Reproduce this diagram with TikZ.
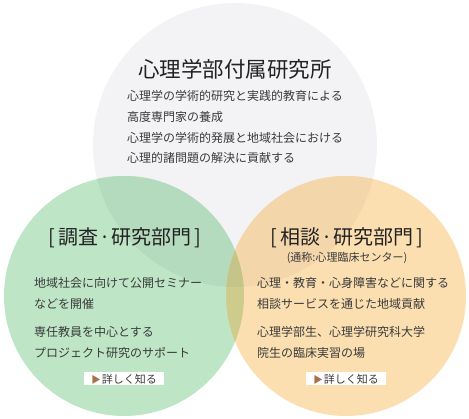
\documentclass[tikz,border=0pt]{standalone}
\usepackage{fontspec}
\setmainfont{Noto Sans CJK JP}
\definecolor{cgrey}{HTML}{F3F3F5}
\definecolor{cgreen}{HTML}{BEE6C6}
\definecolor{corange}{HTML}{FBDFB1}
\definecolor{cgreengrey}{HTML}{B4DBBE}
\definecolor{corangegrey}{HTML}{F3D6AA}
\definecolor{cgo}{HTML}{CDCC8D}
\definecolor{ctri}{HTML}{C5C589}
\definecolor{ctext}{HTML}{3A3A3A}
\definecolor{ctitle}{HTML}{222222}
\definecolor{carrow}{HTML}{A8714A}
\begin{document}
\begin{tikzpicture}[x=1pt,y=-1pt,
  bodytext/.style={anchor=west,inner sep=0pt,text=ctext,font=\fontsize{12pt}{14pt}\selectfont},
  headtext/.style={inner sep=0pt,text=ctitle,font=\fontsize{20pt}{24pt}\selectfont},
  btn/.style={fill=white,inner sep=0pt,minimum width=80pt,minimum height=13pt,text=ctext,font=\fontsize{11pt}{13pt}\selectfont}]
\useasboundingbox (0,0) rectangle (469,419);
% circles
\fill[cgrey] (235,145) circle (142pt);
\fill[cgreen] (124,296) circle (120pt);
\fill[corange] (346,296) circle (120pt);
\begin{scope}
  \clip (235,145) circle (142pt);
  \fill[cgreengrey] (124,296) circle (120pt);
  \fill[corangegrey] (346,296) circle (120pt);
\end{scope}
\begin{scope}
  \clip (124,296) circle (120pt);
  \fill[cgo] (346,296) circle (120pt);
  \clip (235,145) circle (142pt);
  \fill[ctri] (346,296) circle (120pt);
\end{scope}
% top circle
\node[inner sep=0pt,text=ctitle,font=\fontsize{21.5pt}{26pt}\selectfont] (title) at (235,69) {心理学部付属研究所};
\node[bodytext] (t1) at (127,96) {心理学の学術的研究と実践的教育による};
\node[bodytext] (t2) at (127,117) {高度専門家の養成};
\node[bodytext] (t3) at (127,138) {心理学の学術的発展と地域社会における};
\node[bodytext] (t4) at (127,158) {心理的諸問題の解決に貢献する};
% green circle
\node[headtext] (gh) at (125,238) {[\hspace{3pt}調査\hspace{1pt}·\hspace{1pt}研究部門\hspace{3pt}]};
\node[bodytext] (g1) at (34,283) {地域社会に向けて公開セミナー};
\node[bodytext] (g2) at (34,304) {などを開催};
\node[bodytext] (g3) at (34,332) {専任教員を中心とする};
\node[bodytext] (g4) at (34,353) {プロジェクト研究のサポート};
\node[btn] (gb) at (124,379) {{\color{carrow}\fontsize{9.5pt}{10pt}\selectfont ▶}\hspace{1pt}詳しく知る};
% orange circle
\node[headtext] (oh) at (347,238) {[\hspace{3pt}相談\hspace{1pt}·\hspace{1pt}研究部門\hspace{3pt}]};
\node[inner sep=0pt,text=ctext,font=\fontsize{11pt}{13pt}\selectfont] (os) at (347,258) {(通称:心理臨床センター)};
\node[bodytext] (o1) at (257,283) {心理・教育・心身障害などに関する};
\node[bodytext] (o2) at (257,304) {相談サービスを通じた地域貢献};
\node[bodytext] (o3) at (257,332) {心理学部生、心理学研究科大学};
\node[bodytext] (o4) at (257,353) {院生の臨床実習の場};
\node[btn] (ob) at (346,379) {{\color{carrow}\fontsize{9.5pt}{10pt}\selectfont ▶}\hspace{1pt}詳しく知る};
\end{tikzpicture}
\end{document}
